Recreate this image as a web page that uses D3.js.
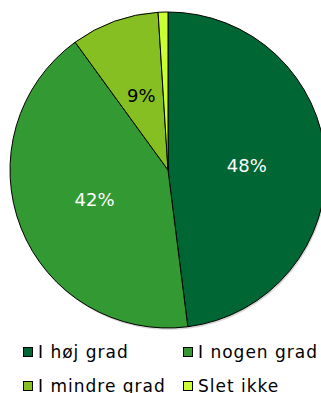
<!DOCTYPE html>
<html>
<head>
<meta charset="utf-8">
<script src="https://cdn.jsdelivr.net/npm/d3@7"></script>
<style>
  html, body { margin: 0; padding: 0; background: #fff; }
  svg { display: block; }
</style>
</head>
<body>
<svg id="chart" width="321" height="393"></svg>
<script>
// Answer categories and their shares (percent)
const categories = ["I høj grad", "I nogen grad", "I mindre grad", "Slet ikke"];
const values = [48, 42, 9, 1];
const labels = ["48%", "42%", "9%", ""];
const colors = ["#006633", "#339933", "#86BF22", "#CCFF33"];
const labelColors = ["#ffffff", "#ffffff", "#000000", "#000000"];

const svg = d3.select("#chart");
const cx = 168, cy = 170, r = 158;
const font = "Verdana, DejaVu Sans, sans-serif";

const pie = d3.pie().sort(null).value(d => d)(values);
const arc = d3.arc().innerRadius(0).outerRadius(r);
const labelArc = d3.arc().innerRadius(r * 0.5).outerRadius(r * 0.5);

const g = svg.append("g").attr("transform", `translate(${cx},${cy})`);

// soft shadow under the pie
g.append("circle")
  .attr("cx", 1).attr("cy", 2).attr("r", r)
  .attr("fill", "#bbb").attr("opacity", 0.6);

g.selectAll("path.slice")
  .data(pie)
  .join("path")
  .attr("class", "slice")
  .attr("d", arc)
  .attr("fill", (d, i) => colors[i])
  .attr("stroke", "#000")
  .attr("stroke-width", 1);

g.selectAll("text.val")
  .data(pie)
  .join("text")
  .attr("class", "val")
  .attr("transform", d => `translate(${labelArc.centroid(d)})`)
  .attr("text-anchor", "middle")
  .attr("dominant-baseline", "central")
  .attr("font-family", font)
  .attr("font-size", 18)
  .attr("fill", (d, i) => labelColors[i])
  .text((d, i) => labels[i]);

// Legend, two columns by two rows
const legendPos = [[23, 347], [183, 347], [23, 381], [183, 381]];
const lg = svg.append("g");
categories.forEach((c, i) => {
  const [x, y] = legendPos[i];
  lg.append("rect")
    .attr("x", x + 0.5).attr("y", y + 0.5)
    .attr("width", 9).attr("height", 9)
    .attr("fill", colors[i])
    .attr("stroke", "#000").attr("stroke-width", 1);
  lg.append("text")
    .attr("x", x + 15).attr("y", y + 11)
    .attr("font-family", font)
    .attr("font-size", 17)
    .attr("letter-spacing", 1)
    .attr("fill", "#000")
    .text(c);
});
</script>
</body>
</html>
